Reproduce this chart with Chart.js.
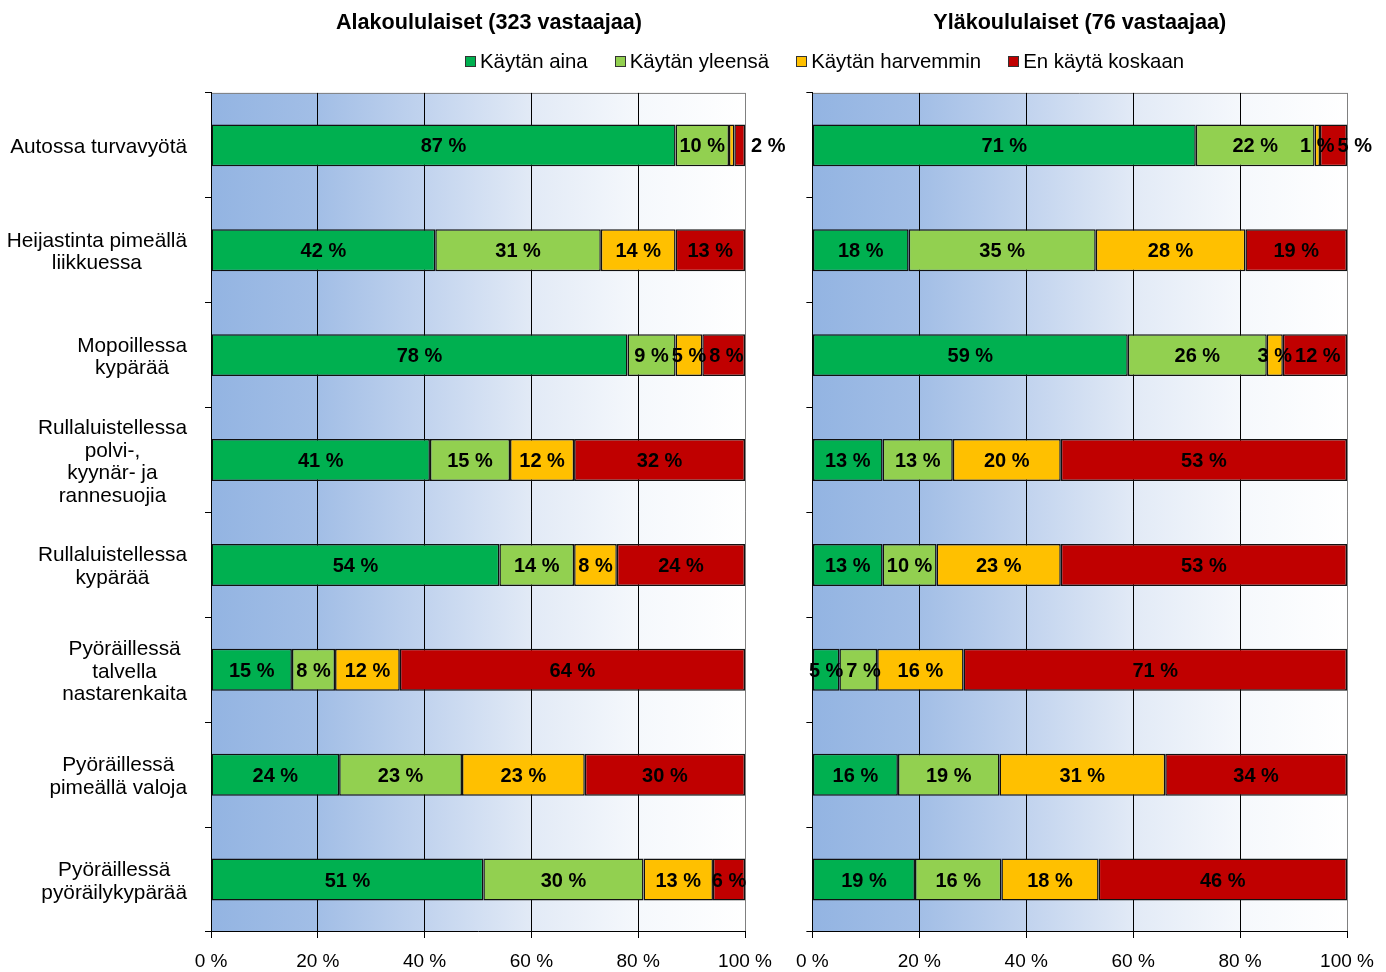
<!DOCTYPE html>
<html>
<head>
<meta charset="utf-8">
<script src="https://cdn.jsdelivr.net/npm/chart.js@4.4.1/dist/chart.umd.min.js"></script>
<style>
  body { margin: 0; background: #fff; width: 1386px; height: 972px; overflow: hidden; position: relative;
         font-family: 'Liberation Sans', Arial, sans-serif; }
  #wrapA { position: absolute; left: 0; top: 0; width: 978px; height: 972px; }
  #wrapB { position: absolute; left: 784px; top: 0; width: 602px; height: 972px; }
  #legend { position: absolute; left: 465px; top: 50px; display: flex; font-size: 20.4px; line-height: 22px; color: #000; }
  #legend .item { display: flex; align-items: center; margin-right: 27px; }
  #legend .box { width: 9px; height: 9px; border: 1px solid #333; margin-right: 4px; }
</style>
</head>
<body>
<div id="wrapA"><canvas id="chartA"></canvas></div>
<div id="wrapB"><canvas id="chartB"></canvas></div>
<div id="legend"></div>
<script>
// categories (y axis)
const categories = [
    'Autossa turvavyötä',
    ['Heijastinta pimeällä', 'liikkuessa'],
    ['Mopoillessa', 'kypärää'],
    ['Rullaluistellessa', 'polvi-,', 'kyynär- ja', 'rannesuojia'],
    ['Rullaluistellessa', 'kypärää'],
    ['Pyöräillessä', 'talvella', 'nastarenkaita'],
    ['Pyöräillessä', 'pimeällä valoja'],
    ['Pyöräillessä', 'pyöräilykypärää']
];
const seriesNames = ['Käytän aina', 'Käytän yleensä', 'Käytän harvemmin', 'En käytä koskaan'];
const seriesColors = ['#00b050', '#92d050', '#ffc000', '#c00000'];

// Alakoululaiset (323 vastaajaa), %
const alaAina      = [87, 42, 78, 41, 54, 15, 24, 51];
const alaYleensa   = [10, 31,  9, 15, 14,  8, 23, 30];
const alaHarvemmin = [ 1, 14,  5, 12,  8, 12, 23, 13];
const alaEi        = [ 2, 13,  8, 32, 24, 64, 30,  6];

// Yläkoululaiset (76 vastaajaa), %
const ylaAina      = [71, 18, 59, 13, 13,  5, 16, 19];
const ylaYleensa   = [22, 35, 26, 13, 10,  7, 19, 16];
const ylaHarvemmin = [ 1, 28,  3, 20, 23, 16, 31, 18];
const ylaEi        = [ 5, 19, 12, 53, 53, 71, 34, 46];

const xTicks = [0, 20, 40, 60, 80, 100];

const FONT = "'Liberation Sans', Arial, sans-serif";

// legend (shared by both panels)
const legendDiv = document.getElementById('legend');
seriesNames.forEach((name, k) => {
    const item = document.createElement('div');
    item.className = 'item';
    item.innerHTML = '<span class="box" style="background:' + seriesColors[k] + '"></span>' + name;
    legendDiv.appendChild(item);
});

// blue -> white background of the plot area
const bgPlugin = {
    id: 'bgPlugin',
    beforeDraw(chart) {
        const a = chart.chartArea;
        const ctx = chart.ctx;
        const g = ctx.createLinearGradient(a.left, 0, a.right, 0);
        g.addColorStop(0, '#93b4e2');
        g.addColorStop(0.2, '#a2bee6');
        g.addColorStop(0.4, '#c1d3ee');
        g.addColorStop(0.6, '#e2eaf6');
        g.addColorStop(0.8, '#f5f8fc');
        g.addColorStop(1, '#ffffff');
        ctx.save();
        ctx.fillStyle = g;
        ctx.fillRect(a.left, a.top, a.right - a.left, a.bottom - a.top);
        ctx.strokeStyle = '#808080';
        ctx.lineWidth = 1;
        ctx.beginPath();
        ctx.moveTo(a.left, a.top + 0.5);
        ctx.lineTo(a.right, a.top + 0.5);
        ctx.stroke();
        ctx.restore();
    }
};

// value labels in the bars
const barLabels = {
    id: 'barLabels',
    afterDatasetsDraw(chart) {
        const ctx = chart.ctx;
        const sets = chart.data.datasets;
        const n = sets.length;
        ctx.save();
        ctx.font = 'bold 20px ' + FONT;
        ctx.fillStyle = '#000';
        ctx.textBaseline = 'middle';
        ctx.textAlign = 'left';
        const nBars = chart.data.labels.length;
        for (let i = 0; i < nBars; i++) {
            let prevEnd = -Infinity;
            let prevOver = false;
            for (let k = 0; k < n; k++) {
                const bar = chart.getDatasetMeta(k).data[i];
                const txt = sets[k].raw[i] + ' %';
                const tw = ctx.measureText(txt).width;
                const w = bar.x - bar.base;
                const ty = bar.y + 1.5;
                if (k === n - 1 && w < tw / 2) {
                    ctx.fillText(txt, bar.x + 6, ty);
                    continue;
                }
                if (tw > w && k < n - 1) {
                    const nb = chart.getDatasetMeta(k + 1).data[i];
                    const ntw = ctx.measureText(sets[k + 1].raw[i] + ' %').width;
                    if (nb.x - nb.base < ntw / 2) continue; // no room
                }
                let x0 = (bar.x + bar.base) / 2 - tw / 2;
                if (prevOver) x0 = Math.max(x0, prevEnd + 3);
                ctx.fillText(txt, x0, ty);
                prevEnd = x0 + tw;
                prevOver = tw > w;
            }
        }
        ctx.restore();
    }
};

// category labels: each block centred, blocks right aligned
const catLabels = {
    id: 'catLabels',
    afterDraw(chart, args, opts) {
        if (!opts.show) return;
        const ctx = chart.ctx;
        const y = chart.scales.y;
        ctx.save();
        ctx.font = '20.8px ' + FONT;
        ctx.fillStyle = '#000';
        ctx.textAlign = 'center';
        ctx.textBaseline = 'middle';
        chart.data.labels.forEach((lab, i) => {
            const lines = Array.isArray(lab) ? lab : [lab];
            const w = Math.max(...lines.map(l => ctx.measureText(l).width));
            const cx = y.right - 24 - w / 2;
            const cy = y.getPixelForValue(i) + 2;
            lines.forEach((l, j) => ctx.fillText(l, cx, cy + (j - (lines.length - 1) / 2) * 22.5));
        });
        ctx.restore();
    }
};

function makePanel(canvasId, title, rows, yWidth, rightSpace, showCats) {
    const totals = categories.map((c, i) => rows.reduce((s, r) => s + r[i], 0));
    const datasets = rows.map((r, k) => ({
        label: seriesNames[k],
        data: r.map((v, i) => v / totals[i] * 100),
        raw: r,
        backgroundColor: seriesColors[k],
        borderColor: '#111',
        borderWidth: 1.5,
        borderSkipped: false,
        barPercentage: 0.4,
        categoryPercentage: 1
    }));

    return new Chart(document.getElementById(canvasId), {
        type: 'bar',
        data: { labels: categories, datasets: datasets },
        options: {
            indexAxis: 'y',
            animation: false,
            responsive: true,
            maintainAspectRatio: false,
            plugins: {
                legend: { display: false },
                tooltip: { enabled: false },
                title: {
                    display: true,
                    text: title,
                    fullSize: showCats, // left panel: centre over whole panel
                    color: '#000',
                    font: { family: FONT, size: 21.6, weight: 'bold' },
                    padding: { top: 10, bottom: 57 }
                },
                catLabels: { show: showCats }
            },
            scales: {
                x: {
                    stacked: true,
                    min: 0,
                    max: 100,
                    afterBuildTicks: s => { s.ticks = xTicks.map(v => ({ value: v })); },
                    ticks: {
                        callback: v => v + ' %',
                        color: '#000',
                        font: { family: FONT, size: 19 },
                        padding: 12,
                        maxRotation: 0
                    },
                    grid: {
                        color: c => (c.tick && c.tick.value === 100) ? '#808080' : '#000',
                        tickColor: '#000',
                        tickLength: 6,
                        lineWidth: 1
                    },
                    border: { color: '#000', width: 1 },
                    afterFit: s => { s.height = 40; }
                },
                y: {
                    stacked: true,
                    ticks: { display: false },
                    grid: { drawOnChartArea: false, drawTicks: true, tickLength: 6, color: '#000' },
                    border: { color: '#000', width: 1 },
                    afterFit: s => { s.width = yWidth; }
                },
                // empty space on the right of the plot
                yPad: {
                    type: 'linear',
                    position: 'right',
                    ticks: { display: false },
                    grid: { display: false },
                    border: { display: false },
                    afterFit: s => { s.width = rightSpace; }
                }
            }
        },
        plugins: [bgPlugin, barLabels, catLabels]
    });
}

makePanel('chartA', 'Alakoululaiset (323 vastaajaa)',
    [alaAina, alaYleensa, alaHarvemmin, alaEi], 211, 233, true);
makePanel('chartB', 'Yläkoululaiset (76 vastaajaa)',
    [ylaAina, ylaYleensa, ylaHarvemmin, ylaEi], 22, 39, false);
</script>
</body>
</html>
